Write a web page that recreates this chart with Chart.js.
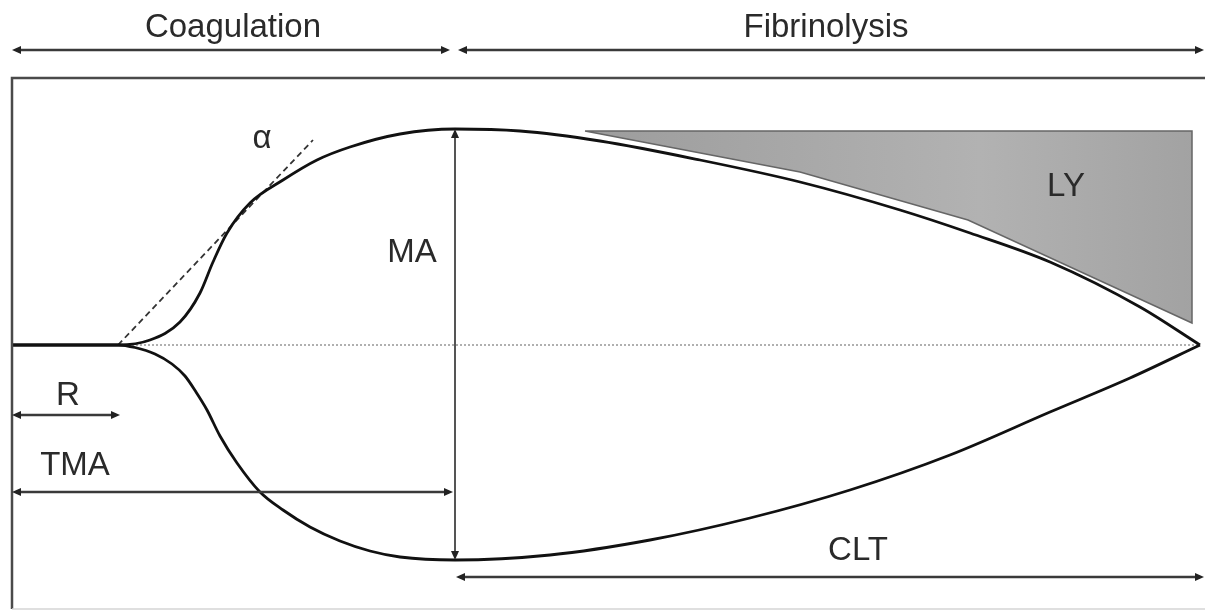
<!DOCTYPE html>
<html>
<head>
<meta charset="utf-8">
<title>TEG trace</title>
<script src="https://cdn.jsdelivr.net/npm/chart.js@4.4.1/dist/chart.umd.min.js"></script>
<style>
  html, body { margin: 0; padding: 0; background: #fff; }
  #wrap { width: 1205px; height: 611px; }
</style>
</head>
<body>
<div id="wrap"><canvas id="teg" width="1205" height="611"></canvas></div>
<script>
// time axis in arbitrary units, amplitude in arbitrary units (0 = baseline)
const upperTime = [1.2, 11.8, 15, 18, 20, 21.3, 22.7, 25, 28.3, 31.7, 35, 40, 45.5, 52, 60, 70, 80, 90, 97, 105, 114, 120];
const upperAmp = [0, 0, 1, 4.6, 10.4, 16.6, 22.4, 28.4, 33, 37, 39.6, 42.2, 43.2, 42.8, 40.8, 37, 32.6, 27, 22.4, 16.6, 7.6, 0];

const lowerTime = [1.2, 11.8, 13.5, 15.5, 17.2, 18.5, 19.6, 20.7, 22, 23.7, 26, 28.3, 31, 34, 37, 40, 45.5, 55, 65, 75, 85, 95, 105, 113, 120];
const lowerAmp = [0, 0, -0.5, -1.8, -3.8, -6.2, -9.4, -13, -18.2, -23.6, -29.4, -33, -36.4, -39.2, -41.2, -42.4, -43, -42, -39, -34.6, -29, -22, -13.4, -6.6, 0];

const alphaTime = [11.8, 31.3];
const alphaAmp = [0, 41];

const lysisTime = [58.5, 119.2, 119.2, 96.8, 80, 58.5];
const lysisAmp = [42.8, 42.8, 4.4, 25, 34.6, 42.8];

const baselineTime = [1.2, 120];
const baselineAmp = [0, 0];

// labelled spans: [from, to, level]
const coagulationSpan = [1.2, 45, 59];
const fibrinolysisSpan = [45.8, 120.4, 59];
const rSpan = [1.2, 12, -14];
const tmaSpan = [1.2, 45.3, -29.4];
const cltSpan = [45.6, 120.4, -46.4];
const maSpan = [45.5, 43.2, -43];

const labels = [
  { text: "Coagulation", x: 23.3, y: 61.6 },
  { text: "Fibrinolysis", x: 82.6, y: 61.6 },
  { text: "α", x: 26.2, y: 39.4 },
  { text: "MA", x: 41.2, y: 16.6 },
  { text: "LY", x: 106.6, y: 29.8 },
  { text: "R", x: 6.8, y: -12 },
  { text: "TMA", x: 7.5, y: -26 },
  { text: "CLT", x: 85.8, y: -43 }
];

// frame: left, right, top, bottom
const frameBox = [1.2, 120.5, 53.4, -52.8];

function toPoints(xs, ys) {
  return xs.map((x, i) => ({ x, y: ys[i] }));
}

function arrowHead(ctx, x, y, angle) {
  const len = 9;
  const half = 4;
  ctx.save();
  ctx.translate(x, y);
  ctx.rotate(angle);
  ctx.beginPath();
  ctx.moveTo(0, 0);
  ctx.lineTo(-len, -half);
  ctx.lineTo(-len, half);
  ctx.closePath();
  ctx.fill();
  ctx.restore();
}

function hSpan(ctx, xs, ys, span) {
  const x1 = xs.getPixelForValue(span[0]);
  const x2 = xs.getPixelForValue(span[1]);
  const y = ys.getPixelForValue(span[2]);
  ctx.beginPath();
  ctx.moveTo(x1 + 4, y);
  ctx.lineTo(x2 - 4, y);
  ctx.stroke();
  arrowHead(ctx, x1, y, Math.PI);
  arrowHead(ctx, x2, y, 0);
}

const overlayPlugin = {
  id: "overlay",
  afterDatasetsDraw(chart) {
    const { ctx } = chart;
    const xs = chart.scales.x;
    const ys = chart.scales.y;
    ctx.save();

    // outer frame (top + left dark, bottom faint, right cut off)
    const fx1 = xs.getPixelForValue(frameBox[0]);
    const fx2 = xs.getPixelForValue(frameBox[1]);
    const fy1 = ys.getPixelForValue(frameBox[2]);
    const fy2 = ys.getPixelForValue(frameBox[3]);
    ctx.strokeStyle = "#4a4a4a";
    ctx.lineWidth = 2.5;
    ctx.beginPath();
    ctx.moveTo(fx2, fy1);
    ctx.lineTo(fx1, fy1);
    ctx.lineTo(fx1, fy2);
    ctx.stroke();
    ctx.strokeStyle = "#d4d4d4";
    ctx.lineWidth = 1.5;
    ctx.beginPath();
    ctx.moveTo(fx1, fy2);
    ctx.lineTo(fx2, fy2);
    ctx.stroke();

    // span arrows
    ctx.strokeStyle = "#3a3a3a";
    ctx.fillStyle = "#222";
    ctx.lineWidth = 2.5;
    [coagulationSpan, fibrinolysisSpan, rSpan, tmaSpan, cltSpan].forEach((span) => hSpan(ctx, xs, ys, span));

    // MA vertical arrow
    ctx.strokeStyle = "#555";
    ctx.lineWidth = 2;
    const mx = xs.getPixelForValue(maSpan[0]);
    const my1 = ys.getPixelForValue(maSpan[1]);
    const my2 = ys.getPixelForValue(maSpan[2]);
    ctx.beginPath();
    ctx.moveTo(mx, my1 + 4);
    ctx.lineTo(mx, my2 - 4);
    ctx.stroke();
    arrowHead(ctx, mx, my1, -Math.PI / 2);
    arrowHead(ctx, mx, my2, Math.PI / 2);

    // labels
    ctx.fillStyle = "#2a2a2a";
    ctx.font = "33px 'Liberation Sans', Arial, sans-serif";
    ctx.textAlign = "center";
    ctx.textBaseline = "alphabetic";
    labels.forEach((item) => {
      ctx.fillText(item.text, xs.getPixelForValue(item.x), ys.getPixelForValue(item.y));
    });
    ctx.restore();
  }
};

function lysisFill(context) {
  const area = context.chart.chartArea;
  if (!area) {
    return "#a8a8a8";
  }
  const g = context.chart.ctx.createLinearGradient(area.left + 580, 0, area.left + 1195, 0);
  g.addColorStop(0, "#9c9c9c");
  g.addColorStop(0.65, "#b2b2b2");
  g.addColorStop(1, "#a2a2a2");
  return g;
}

new Chart(document.getElementById("teg"), {
  type: "scatter",
  data: {
    datasets: [
      {
        label: "upper",
        data: toPoints(upperTime, upperAmp),
        showLine: true,
        borderColor: "#111",
        borderWidth: 2.8,
        pointRadius: 0,
        cubicInterpolationMode: "monotone",
        order: 1
      },
      {
        label: "lower",
        data: toPoints(lowerTime, lowerAmp),
        showLine: true,
        borderColor: "#111",
        borderWidth: 2.8,
        pointRadius: 0,
        cubicInterpolationMode: "monotone",
        order: 1
      },
      {
        label: "alpha",
        data: toPoints(alphaTime, alphaAmp),
        showLine: true,
        borderColor: "#333",
        borderWidth: 1.8,
        borderDash: [6, 4],
        pointRadius: 0,
        order: 2
      },
      {
        label: "LY",
        data: toPoints(lysisTime, lysisAmp),
        showLine: true,
        borderColor: "#666",
        borderWidth: 1.5,
        backgroundColor: lysisFill,
        fill: "shape",
        tension: 0,
        pointRadius: 0,
        order: 3
      },
      {
        label: "baseline",
        data: toPoints(baselineTime, baselineAmp),
        showLine: true,
        borderColor: "#b0b0b0",
        borderWidth: 2,
        borderDash: [2, 2],
        pointRadius: 0,
        order: 4
      }
    ]
  },
  options: {
    responsive: false,
    animation: false,
    layout: { padding: 0 },
    clip: false,
    plugins: {
      legend: { display: false },
      tooltip: { enabled: false },
      title: { display: false }
    },
    scales: {
      x: { type: "linear", min: 0, max: 120.5, display: false },
      y: { type: "linear", min: -53.2, max: 69, display: false }
    }
  },
  plugins: [overlayPlugin]
});
</script>
</body>
</html>
